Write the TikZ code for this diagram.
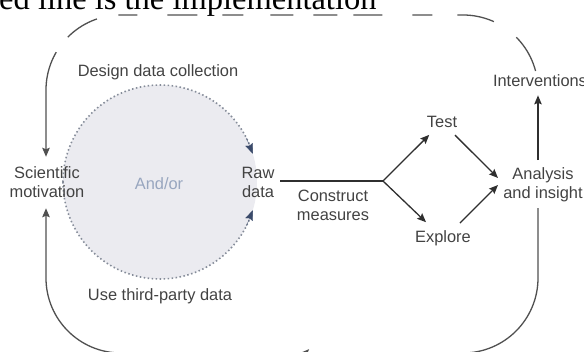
\documentclass[tikz,border=0pt]{standalone}
\usepackage{fontspec}
\setmainfont{Liberation Sans}
\newfontfamily\captionserif{Liberation Serif}
\usetikzlibrary{arrows.meta,calc}
\definecolor{inktext}{HTML}{424242}
\definecolor{inkline}{HTML}{2F2F2F}
\definecolor{loopgray}{HTML}{505050}
\definecolor{poolfill}{HTML}{EBEBF0}
\definecolor{pooldots}{HTML}{858C99}
\definecolor{pooltip}{HTML}{3A4A6A}
\definecolor{poolword}{HTML}{98A6BF}

\begin{document}
\begin{tikzpicture}[x=1pt,y=-1pt,
  txt/.style={inner sep=0pt, font=\fontsize{16.4}{19}\selectfont, text=inktext, align=center},
  flow/.style={draw=inkline, line width=1.3pt},
  arr/.style={flow, -{Stealth[length=9pt,width=7.5pt,inset=1.5pt]}},
  loopline/.style={draw=loopgray, line width=1.3pt, rounded corners=75pt},
  looparr/.style={loopline, -{Stealth[length=9pt,width=7.5pt,inset=1.5pt]}},
  loopback/.style={loopline, {Stealth[length=9pt,width=7.5pt,inset=1.5pt]}-},
  pooledge/.style={draw=pooldots, line width=1.6pt, dash pattern=on 1.5pt off 2.5pt},
  pooltipline/.style={draw=pooltip, line width=0.3pt,
    -{Stealth[length=10pt,width=8pt,inset=1.5pt,fill=pooltip]}}
]
\useasboundingbox (0,0) rectangle (584,351);
\clip (0,0) rectangle (584,351);

% caption line running off the top edge
\node[anchor=base west, inner sep=0pt, text=black,
      font=\captionserif\fontsize{32.5}{36}\selectfont] (cap) at (-1,9.5)
      {ed line is the implementation};

% data pool: shaded disc with two dotted routes into the raw data
\coordinate (pc) at (160,182);
\fill[poolfill] (pc) circle[radius=97pt];
\draw[pooledge] plot[smooth, domain=180:337, samples=70]
  ({160+97*cos(\x)},{182+97*sin(\x)});
\draw[pooledge] plot[smooth, domain=0:157, samples=70]
  ({160+97*cos(180-\x)},{182+97*sin(180-\x)});
\coordinate (uptipbase) at ($(pc)+(333:97)$);
\coordinate (uptip) at ($(pc)+(343:97)$);
\coordinate (lowtipbase) at ($(pc)+(27:97)$);
\coordinate (lowtip) at ($(pc)+(17:97)$);
\draw[pooltipline] (uptipbase) -- (uptip);
\draw[pooltipline] (lowtipbase) -- (lowtip);

% labels
\node[txt] (sci) at (47,182.5) {Scientific\\motivation};
\node[txt] (raw) at (258,182.5) {Raw\\data};
\node[txt] (cm) at (333,205) {Construct\\measures};
\node[txt, anchor=base] (test) at (442,127.7) {Test};
\node[txt, anchor=base] (explore) at (443,242.7) {Explore};
\node[txt] (ana) at (543,184.5) {Analysis\\and insight};
\node[txt, anchor=base] (inter) at (540,86) {Interventions};
\node[txt, anchor=base] (design) at (158,76) {Design data collection};
\node[txt, anchor=base] (third) at (160,300.5) {Use third-party data};
\node[txt, anchor=base, text=poolword] (andor) at (159,189) {And/or};

% fixed points of the pipeline and of the outer loop
\coordinate (fork) at (383,181);
\coordinate (col) at (538,0);
\coordinate (lx) at (46,0);
\coordinate (nw) at (46,15);
\coordinate (ne) at (538,15);
\coordinate (topend) at (538,90);
\coordinate (bmid) at (300,353);

% pipeline
\draw[flow, shorten <=5.5pt] (raw.east |- fork) -- (fork);
\draw[arr, shorten >=18pt] (fork) -- (test.center);
\draw[arr, shorten >=23.5pt] (fork) -- (explore.center);
\draw[arr] ($(test.center)+(13,13)$) -- ($(ana.center)+(-45,-6.5)$);
\draw[arr] ($(explore.center)+(17,-15.4)$) -- ($(ana.center)+(-45,0.5)$);
\draw[arr, shorten <=7pt, shorten >=9pt] (ana.north -| col) -- (inter.south -| col);

% outer loop: back round the bottom to the motivation
\draw[looparr, shorten <=6.3pt] (ana.south -| col) |- (bmid);
\draw[looparr, shorten >=10pt] (bmid) -| (sci.south -| lx);

% outer loop: dashed implementation path over the top
\draw[loopback, shorten <=10pt,
  dash pattern=on 99.3pt off 19pt on 34.7pt off 21.9pt on 19pt off 30pt
    on 30pt off 25pt on 21pt off 27pt on 23pt off 20pt on 24pt off 16pt
    on 29pt off 30pt on 20pt off 25pt on 37.4pt off 27.5pt on 39.3pt off 40pt]
  (sci.north -| lx) -- (nw) -- (ne) -- (topend);
\end{tikzpicture}
\end{document}
